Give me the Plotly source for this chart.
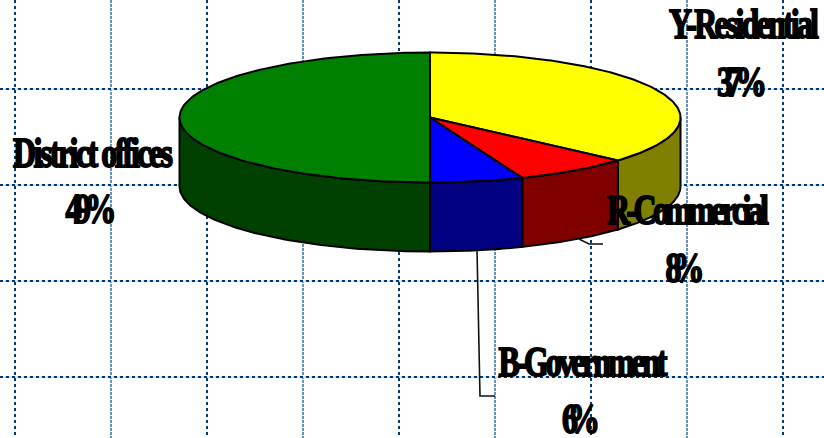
import numpy as np
import plotly.graph_objects as go

categories = ["Y-Residential", "R-Commercial", "B-Government", "District offices"]
percent_labels = ["37%", "8%", "6%", "49%"]
slice_shares = [36.5, 7.5, 6.0, 50.0]
top_colors = ["#FFFF00", "#FF0000", "#0000FF", "#008000"]
side_colors = ["#808000", "#800000", "#000080", "#004000"]

name_pos = [(744, 27), (688, 214), (583, 366), (93, 157)]
pct_pos = [(742, 86), (685, 272), (581, 423), (91, 213)]
text_widths = [150, 162, 169, 160, 50, 39, 38, 51]
leader_lines = [
    ([579, 589, 603], [239, 244, 244]),
    ([477, 480, 495], [249, 396, 396]),
]
grid_dark_x = [15, 207, 399, 591, 783]
grid_light_x = [111, 303, 495, 687]
grid_y = [89, 185, 281, 377]

CX, CY, RX, RY, DEPTH = 430, 117.5, 250.5, 65, 69


def pt(t, dy=0.0):
    return CX + RX * np.sin(t), CY - RY * np.cos(t) + dy


fig = go.Figure()
edges = np.cumsum([0] + slice_shares) / sum(slice_shares) * 2 * np.pi
line = dict(color="black", width=2)

# horizontal pale band behind the dotted rules
fig.add_trace(go.Scatter(
    x=[v for y in grid_y for v in (0, 824, None)],
    y=[v for y in grid_y for v in (y, y, None)],
    mode="lines", line=dict(color="#DCE3EC", width=2), hoverinfo="skip"))
fig.add_trace(go.Scatter(
    x=[v for y in grid_y for v in (0, 824, None)],
    y=[v for y in grid_y for v in (y, y, None)],
    mode="lines", line=dict(color="#003A75", width=2, dash="3px,3px"), hoverinfo="skip"))

# side walls: only the front half of the disc is visible
for i in range(len(slice_shares)):
    a, b = max(edges[i], np.pi / 2), min(edges[i + 1], 3 * np.pi / 2)
    if b <= a:
        continue
    t = np.linspace(a, b, 80)
    x1, y1 = pt(t)
    x2, y2 = pt(t[::-1], DEPTH)
    fig.add_trace(go.Scatter(x=np.r_[x1, x2, x1[0]], y=np.r_[y1, y2, y1[0]], mode="lines",
                             fill="toself", fillcolor=side_colors[i], line=line, hoverinfo="skip"))

# top face
for i in range(len(slice_shares)):
    t = np.linspace(edges[i], edges[i + 1], 160)
    x1, y1 = pt(t)
    fig.add_trace(go.Scatter(x=np.r_[CX, x1, CX], y=np.r_[CY, y1, CY], mode="lines",
                             fill="toself", fillcolor=top_colors[i], line=line,
                             name=categories[i], hoverinfo="name"))

for lx, ly in leader_lines:
    fig.add_trace(go.Scatter(x=lx, y=ly, mode="lines", line=dict(color="#111111", width=1.6), hoverinfo="skip"))

fig.add_trace(go.Scatter(
    x=[p[0] for p in name_pos] + [p[0] for p in pct_pos],
    y=[p[1] for p in name_pos] + [p[1] for p in pct_pos],
    text=categories + percent_labels,
    mode="text", textposition="middle center", hoverinfo="skip",
    textfont=dict(family="Liberation Serif", size=42, color="black", weight="bold"),
))

axis_common = dict(showline=False, zeroline=False, ticks="", showticklabels=False)
fig.update_layout(
    width=824, height=438, showlegend=False,
    margin=dict(l=0, r=0, t=0, b=0),
    paper_bgcolor="white", plot_bgcolor="white",
    xaxis=dict(range=[0, 824], tickmode="array", tickvals=grid_dark_x,
               gridcolor="#003A75", gridwidth=2, griddash="3px,3px",
               minor=dict(tickmode="array", tickvals=grid_light_x, showgrid=True, gridcolor="#6B8CB3",
                          gridwidth=2, griddash="3px,1px"),
               **axis_common),
    yaxis=dict(range=[438, 0], tickmode="array", tickvals=grid_y, showgrid=False, **axis_common),
)

post = """
document.body.style.margin='0';
var w=%s, sx=0.76;
document.querySelectorAll('.textpoint text').forEach(function(t,i){
  var x=t.getAttribute('x'), y=t.getAttribute('y'), old=t.getAttribute('transform')||'';
  t.setAttribute('textLength',w[i]/sx);
  t.setAttribute('lengthAdjust','spacing');
  t.setAttribute('transform',old+' translate('+x+','+y+') scale('+sx+',1) translate('+(-x)+','+(-y)+')');
  t.style.stroke='black';
  t.style.strokeWidth='1.9px';
});
""" % (text_widths,)
fig.write_html("out.html", post_script=post, config={"displayModeBar": False})
